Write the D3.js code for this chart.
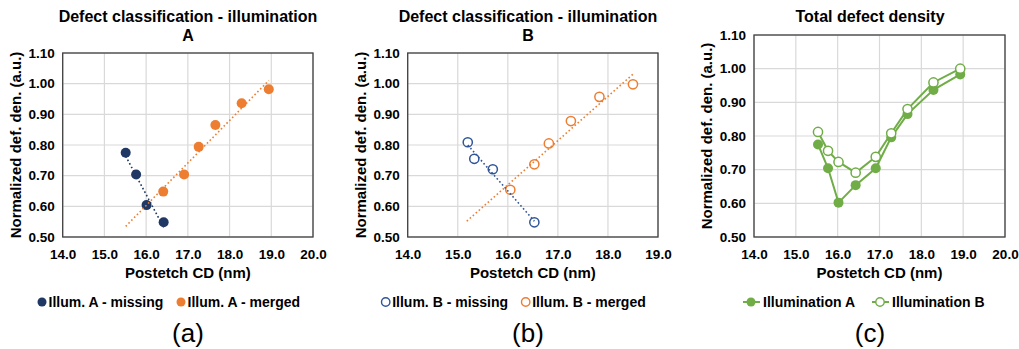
<!DOCTYPE html>
<html><head><meta charset="utf-8">
<script src="https://cdn.jsdelivr.net/npm/d3@7"></script>
<style>
html,body{margin:0;padding:0;background:#fff;}
svg{display:block;font-family:"Liberation Sans",Arial,sans-serif;}
</style></head>
<body>
<svg id="chart" width="1019" height="349"></svg>
<script>
// ---------- data ----------
const xTicksA = [14, 15, 16, 17, 18, 19, 20];
const xTicksB = [14, 15, 16, 17, 18, 19];
const xTicksC = [14, 15, 16, 17, 18, 19, 20];
const yTicks = [0.5, 0.6, 0.7, 0.8, 0.9, 1.0, 1.1];

// (a) Illumination A
const aMissingX = [15.51, 15.76, 16.01, 16.42];
const aMissingY = [0.775, 0.704, 0.604, 0.548];
const aMergedX = [16.41, 16.91, 17.26, 17.66, 18.29, 18.94];
const aMergedY = [0.648, 0.704, 0.794, 0.865, 0.936, 0.982];
const aMissingTrendRange = [15.51, 16.42];
const aMergedTrendRange = [15.51, 18.94];

// (b) Illumination B
const bMissingX = [15.20, 15.33, 15.70, 16.53];
const bMissingY = [0.809, 0.755, 0.721, 0.548];
const bMergedX = [16.05, 16.53, 16.82, 17.26, 17.83, 18.50];
const bMergedY = [0.654, 0.737, 0.805, 0.878, 0.957, 0.998];
const bMissingTrendRange = [15.20, 16.53];
const bMergedTrendRange = [15.18, 18.50];

// (c) Total defect density
const cX = [15.53, 15.77, 16.02, 16.43, 16.91, 17.28, 17.67, 18.29, 18.93];
const cIllumA = [0.775, 0.704, 0.602, 0.654, 0.704, 0.796, 0.865, 0.937, 0.983];
const cIllumB = [0.812, 0.756, 0.723, 0.691, 0.738, 0.808, 0.880, 0.959, 1.000];

// ---------- styles ----------
const NAVY = "#203864", NAVY_OPEN = "#2F5597", ORANGE = "#ED7D31", GREEN = "#70AD47";
const GRID = "#d9d9d9", BORDER = "#404040";

const svg = d3.select("#chart");
const zip = (xs, ys) => xs.map((x, i) => ({x, y: ys[i]}));

function regression(pts) {
  const mx = d3.mean(pts, d => d.x), my = d3.mean(pts, d => d.y);
  const sxy = d3.sum(pts, d => (d.x - mx) * (d.y - my));
  const sxx = d3.sum(pts, d => (d.x - mx) * (d.x - mx));
  const m = sxy / sxx;
  return x => my + m * (x - mx);
}

function panel(cfg) {
  const g = svg.append("g");
  const x = d3.scaleLinear().domain([cfg.xTicks[0], cfg.xTicks[cfg.xTicks.length - 1]]).range([cfg.left, cfg.right]);
  const y = d3.scaleLinear().domain([0.5, 1.1]).range([cfg.bottom, cfg.top]);

  // grid
  g.append("g").selectAll("line.v").data(cfg.xTicks).join("line")
    .attr("x1", d => x(d)).attr("x2", d => x(d)).attr("y1", cfg.top).attr("y2", cfg.bottom)
    .attr("stroke", GRID).attr("stroke-width", 1.2);
  g.append("g").selectAll("line.h").data(yTicks).join("line")
    .attr("x1", cfg.left).attr("x2", cfg.right).attr("y1", d => y(d)).attr("y2", d => y(d))
    .attr("stroke", GRID).attr("stroke-width", 1.2);

  // border
  g.append("rect").attr("x", cfg.left).attr("y", cfg.top)
    .attr("width", cfg.right - cfg.left).attr("height", cfg.bottom - cfg.top)
    .attr("fill", "none").attr("stroke", BORDER).attr("stroke-width", 1.3);

  // axes (labels only)
  const xAxis = d3.axisBottom(x).tickValues(cfg.xTicks).tickFormat(d3.format(".1f")).tickSize(0).tickPadding(12);
  const xa = g.append("g").attr("transform", `translate(0,${cfg.bottom})`).call(xAxis);
  xa.select(".domain").remove();
  xa.selectAll("text").attr("font-size", 13.5).attr("font-weight", "bold").attr("fill", "#000")
    .attr("font-family", "Liberation Sans, Arial, sans-serif");
  const yAxis = d3.axisLeft(y).tickValues(yTicks).tickFormat(d3.format(".2f")).tickSize(0).tickPadding(8);
  const ya = g.append("g").attr("transform", `translate(${cfg.left},0)`).call(yAxis);
  ya.select(".domain").remove();
  ya.selectAll("text").attr("font-size", 13.5).attr("font-weight", "bold").attr("fill", "#000")
    .attr("font-family", "Liberation Sans, Arial, sans-serif");

  // axis titles
  const cx = (cfg.left + cfg.right) / 2;
  g.append("text").attr("x", cx).attr("y", 278).attr("text-anchor", "middle")
    .attr("font-size", 15).attr("font-weight", "bold").text("Postetch CD (nm)");
  g.append("text").attr("transform", `translate(${cfg.left - 42},${(cfg.top + cfg.bottom) / 2}) rotate(-90)`)
    .attr("text-anchor", "middle").attr("font-size", 15).attr("font-weight", "bold")
    .text("Normalized def. den. (a.u.)");

  // title
  cfg.title.forEach((t, i) => {
    g.append("text").attr("x", cfg.titleX).attr("y", 22 + i * 19).attr("text-anchor", "middle")
      .attr("font-size", 16).attr("font-weight", "bold").text(t);
  });

  // panel label
  g.append("text").attr("x", cfg.titleX).attr("y", 342).attr("text-anchor", "middle")
    .attr("font-size", 26).text(cfg.label);

  cfg.draw(g, x, y);
  return {g, x, y};
}

function trend(g, x, y, pts, range, color) {
  const f = regression(pts);
  g.append("line").attr("x1", x(range[0])).attr("y1", y(f(range[0])))
    .attr("x2", x(range[1])).attr("y2", y(f(range[1])))
    .attr("stroke", color).attr("stroke-width", 1.6).attr("stroke-dasharray", "1.6,2.4");
}

function dots(g, x, y, pts, color, open) {
  g.append("g").selectAll("circle").data(pts).join("circle")
    .attr("cx", d => x(d.x)).attr("cy", d => y(d.y)).attr("r", open ? 4.6 : 5)
    .attr("fill", open ? "#fff" : color).attr("stroke", open ? color : "none")
    .attr("stroke-width", open ? 1.5 : 0);
}

function legendItem(x0, text, color, open, line) {
  const g = svg.append("g");
  if (line) {
    g.append("line").attr("x1", x0 - 8).attr("x2", x0 + 9).attr("y1", 302).attr("y2", 302)
      .attr("stroke", color).attr("stroke-width", 2);
  }
  g.append("circle").attr("cx", x0).attr("cy", 302).attr("r", open ? 4.2 : 4.5)
    .attr("fill", open ? "#fff" : color).attr("stroke", open ? color : "none").attr("stroke-width", 1.4);
  g.append("text").attr("x", x0 + (line ? 12 : 6.5)).attr("y", 307).attr("font-size", 14)
    .attr("font-weight", "bold").text(text);
}

// (a)
panel({
  left: 62.7, right: 313, top: 53, bottom: 237, xTicks: xTicksA,
  title: ["Defect classification - illumination", "A"], titleX: 188, label: "(a)",
  draw: (g, x, y) => {
    const miss = zip(aMissingX, aMissingY), merg = zip(aMergedX, aMergedY);
    dots(g, x, y, miss, NAVY, false);
    dots(g, x, y, merg, ORANGE, false);
    trend(g, x, y, miss, aMissingTrendRange, NAVY);
    trend(g, x, y, merg, aMergedTrendRange, ORANGE);
  }
});
legendItem(42, "Illum. A - missing", NAVY, false);
legendItem(181, "Illum. A - merged", ORANGE, false);

// (b)
panel({
  left: 407.7, right: 658, top: 53, bottom: 237, xTicks: xTicksB,
  title: ["Defect classification - illumination", "B"], titleX: 528, label: "(b)",
  draw: (g, x, y) => {
    const miss = zip(bMissingX, bMissingY), merg = zip(bMergedX, bMergedY);
    dots(g, x, y, miss, NAVY_OPEN, true);
    dots(g, x, y, merg, ORANGE, true);
    trend(g, x, y, miss, bMissingTrendRange, NAVY_OPEN);
    trend(g, x, y, merg, bMergedTrendRange, ORANGE);
  }
});
legendItem(385.7, "Illum. B - missing", NAVY_OPEN, true);
legendItem(525.7, "Illum. B - merged", ORANGE, true);

// (c)
panel({
  left: 754, right: 1005, top: 35, bottom: 237, xTicks: xTicksC,
  title: ["Total defect density"], titleX: 870, label: "(c)",
  draw: (g, x, y) => {
    const line = d3.line().x(d => x(d.x)).y(d => y(d.y));
    const A = zip(cX, cIllumA), B = zip(cX, cIllumB);
    g.append("path").datum(A).attr("d", line).attr("fill", "none").attr("stroke", GREEN).attr("stroke-width", 2);
    g.append("path").datum(B).attr("d", line).attr("fill", "none").attr("stroke", GREEN).attr("stroke-width", 2);
    dots(g, x, y, A, GREEN, false);
    g.append("g").selectAll("circle").data(B).join("circle")
      .attr("cx", d => x(d.x)).attr("cy", d => y(d.y)).attr("r", 4.6)
      .attr("fill", "#fff").attr("stroke", GREEN).attr("stroke-width", 1.5);
  }
});
legendItem(751, "Illumination A", GREEN, false, true);
legendItem(880, "Illumination B", GREEN, true, true);
</script>
</body></html>
